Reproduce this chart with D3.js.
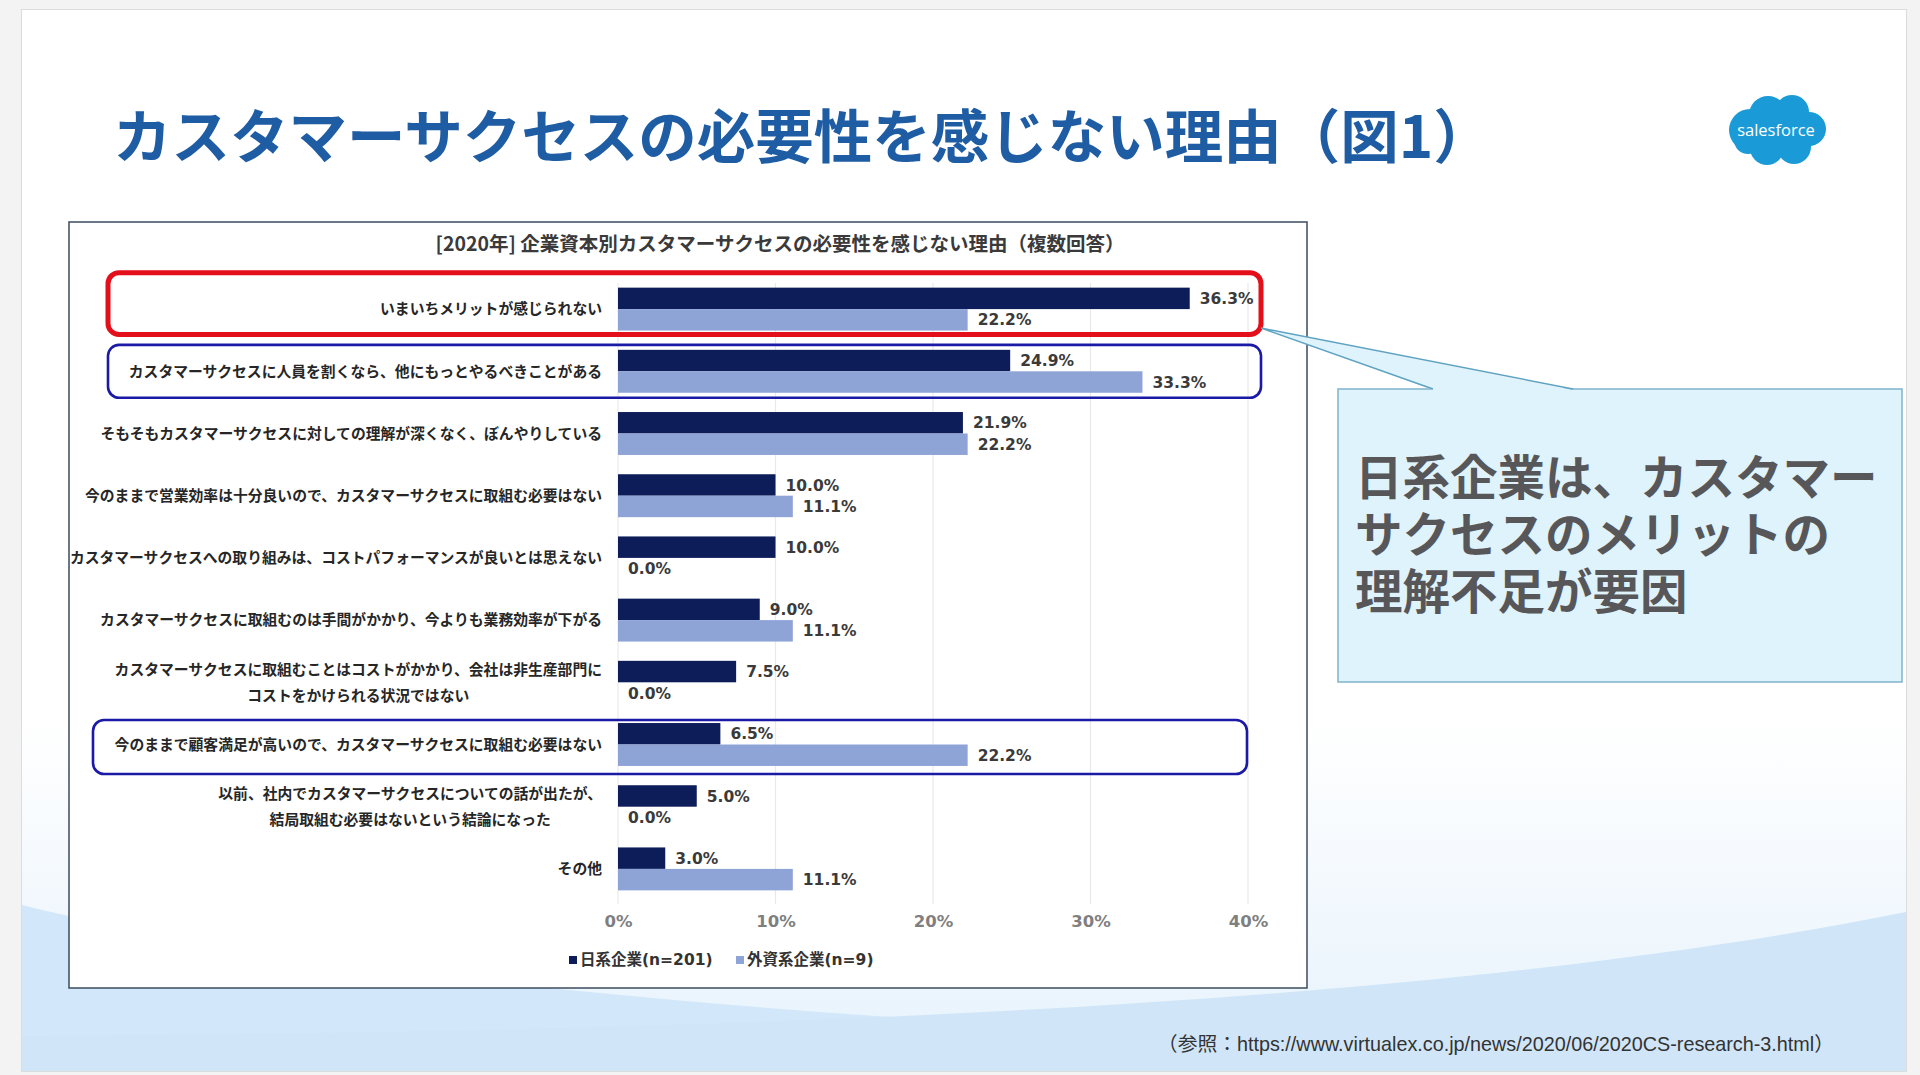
<!DOCTYPE html>
<html><head><meta charset="utf-8">
<script src="https://cdn.jsdelivr.net/npm/d3@7"></script>
<style>
html,body{margin:0;padding:0;background:#f3f3f3;}
svg{display:block;}
</style></head>
<body>
<svg id="c" width="1920" height="1075"></svg>
<script>
// ---------------- data ----------------
const slideTitle = "カスタマーサクセスの必要性を感じない理由（図1）";
const chartTitle = "[2020年] 企業資本別カスタマーサクセスの必要性を感じない理由（複数回答）";
const categories = [
  "いまいちメリットが感じられない",
  "カスタマーサクセスに人員を割くなら、他にもっとやるべきことがある",
  "そもそもカスタマーサクセスに対しての理解が深くなく、ぼんやりしている",
  "今のままで営業効率は十分良いので、カスタマーサクセスに取組む必要はない",
  "カスタマーサクセスへの取り組みは、コストパフォーマンスが良いとは思えない",
  "カスタマーサクセスに取組むのは手間がかかり、今よりも業務効率が下がる",
  "カスタマーサクセスに取組むことはコストがかかり、会社は非生産部門に\nコストをかけられる状況ではない",
  "今のままで顧客満足が高いので、カスタマーサクセスに取組む必要はない",
  "以前、社内でカスタマーサクセスについての話が出たが、\n結局取組む必要はないという結論になった",
  "その他"
];
const seriesNames = ["日系企業(n=201)", "外資系企業(n=9)"];
const japanValues   = [36.3, 24.9, 21.9, 10.0, 10.0, 9.0, 7.5, 6.5, 5.0, 3.0];
const foreignValues = [22.2, 33.3, 22.2, 11.1, 0.0, 11.1, 0.0, 22.2, 0.0, 11.1];
const xTicks = [0, 10, 20, 30, 40];
const seriesColors = ["#0c1d5a", "#8ea4d7"];
const calloutLines = ["日系企業は、カスタマー", "サクセスのメリットの", "理解不足が要因"];
const sourceText = "（参照：https://www.virtualex.co.jp/news/2020/06/2020CS-research-3.html）";
const redBoxRows = [0];
const blueBoxRows = [1, 7];

// ---------------- layout ----------------
const JP = "'Noto Sans CJK JP','Noto Sans',sans-serif";
const NUM = "'DejaVu Sans','Noto Sans CJK JP',sans-serif";
const svg = d3.select("#c");
const defs = svg.append("defs");

// slide background
svg.append("rect").attr("x",0).attr("y",0).attr("width",1920).attr("height",1075).attr("fill","#f3f3f3");
svg.append("rect").attr("x",21).attr("y",9).attr("width",1886).attr("height",1063).attr("fill","#dcdcdc");
svg.append("rect").attr("x",22).attr("y",10).attr("width",1884).attr("height",1061).attr("fill","#ffffff");

const g1 = defs.append("linearGradient").attr("id","bgGrad").attr("x1",0).attr("y1",0).attr("x2",0).attr("y2",1);
g1.append("stop").attr("offset","0%").attr("stop-color","#ffffff");
g1.append("stop").attr("offset","100%").attr("stop-color","#e6f2fc");
svg.append("rect").attr("x",22).attr("y",720).attr("width",1884).attr("height",351).attr("fill","url(#bgGrad)");

svg.append("path")
  .attr("d","M22 905 C 250 962, 600 1002, 1100 1030 L 1906 1050 L 1906 1071 L 22 1071 Z")
  .attr("fill","#d2e7f9");
svg.append("path")
  .attr("d","M22 1036 C 700 1032, 1420 1010, 1906 912 L 1906 1071 L 22 1071 Z")
  .attr("fill","#d0e6f8");

// title
svg.append("text").attr("x",113).attr("y",158)
  .attr("font-family",JP).attr("font-weight",700).attr("font-size",58.5)
  .attr("fill","#1e5ca3").text(slideTitle);

// salesforce logo
const logo = svg.append("g").attr("fill","#1a9bd7");
[[1750,130,21],[1768,115,19],[1792,112,17],[1809,129,17],[1794,147,17],[1767,148,17],[1748,140,14]]
  .forEach(c => logo.append("circle").attr("cx",c[0]).attr("cy",c[1]).attr("r",c[2]));
logo.append("rect").attr("x",1745).attr("y",115).attr("width",62).attr("height",35);
svg.append("text").attr("x",1776).attr("y",136).attr("text-anchor","middle")
  .attr("font-family","'Open Sans','Noto Sans',sans-serif").attr("font-size",16.5)
  .attr("fill","#ffffff").text("salesforce");

// chart frame
svg.append("rect").attr("x",69).attr("y",222).attr("width",1238).attr("height",766)
  .attr("fill","#ffffff").attr("stroke","#3c4b5d").attr("stroke-width",1.5);

svg.append("text").attr("x",780).attr("y",251).attr("text-anchor","middle")
  .attr("font-family",JP).attr("font-weight",700).attr("font-size",19.5)
  .attr("fill","#3a3a3a").text(chartTitle);

// scales
const x = d3.scaleLinear().domain([0,40]).range([618,1248]);
const y = d3.scaleBand().domain(d3.range(categories.length)).range([278,900])
  .paddingInner(0.31).paddingOuter(0.155);
const ySub = d3.scaleBand().domain([0,1]).range([0,y.bandwidth()]);

// gridlines
svg.append("g").selectAll("line").data(xTicks).join("line")
  .attr("x1",d=>x(d)).attr("x2",d=>x(d)).attr("y1",283).attr("y2",904)
  .attr("stroke","#e9e9e9").attr("stroke-width",1.2);

// x axis
const xAxis = svg.append("g").attr("transform","translate(0,912)")
  .call(d3.axisBottom(x).tickValues(xTicks).tickSize(0).tickFormat(d=>d+"%"));
xAxis.select(".domain").remove();
xAxis.selectAll("text").attr("font-family",NUM).attr("font-weight",700)
  .attr("font-size",16.5).attr("fill","#7f7f7f").attr("dy","0.71em");

// highlight boxes (red behind bars)
redBoxRows.forEach(i=>{
  svg.append("rect").attr("x",108).attr("y",y(i)-15).attr("width",1153)
    .attr("height",y.bandwidth()+19).attr("rx",11)
    .attr("fill","none").attr("stroke","#e3101b").attr("stroke-width",5);
});

// bars
const series = [japanValues, foreignValues];
const barG = svg.append("g");
series.forEach((vals,si)=>{
  barG.selectAll(null).data(vals).join("rect")
    .attr("x",x(0)).attr("y",(d,i)=>y(i)+ySub(si))
    .attr("width",d=>x(d)-x(0)).attr("height",ySub.bandwidth())
    .attr("fill",seriesColors[si]);
  barG.selectAll(null).data(vals).join("text")
    .attr("x",d=>x(d)+10).attr("y",(d,i)=>y(i)+ySub(si)+ySub.bandwidth()/2)
    .attr("dy","0.36em")
    .attr("font-family",NUM).attr("font-weight",700).attr("font-size",15.5)
    .attr("fill","#3a3a3a").text(d=>d.toFixed(1)+"%");
});

blueBoxRows.forEach((i,k)=>{
  const x0 = k===0 ? 108 : 93;
  const w = k===0 ? 1153 : 1154;
  svg.append("rect").attr("x",x0).attr("y",y(i)-(k===0?5:3)).attr("width",w)
    .attr("height",y.bandwidth()+(k===0?10:11)).attr("rx",11)
    .attr("fill","none").attr("stroke","#1a1aa6").attr("stroke-width",2.6);
});

// category labels
const labG = svg.append("g");
categories.forEach((c,i)=>{
  const lines = c.split("\n");
  const cy = y(i)+y.bandwidth()/2;
  const t = labG.append("text").attr("font-family",JP).attr("font-weight",700)
    .attr("font-size",14.8).attr("fill","#262626");
  if(lines.length===1){
    t.attr("x",602).attr("y",cy).attr("dy","0.36em").attr("text-anchor","end").text(c);
  } else {
    const spans = lines.map((l,j)=>t.append("tspan").attr("y",cy+(j-0.5)*26).attr("dy","0.36em").text(l));
    const maxW = d3.max(spans.map(s=>s.node().getComputedTextLength()));
    spans.forEach(s=>s.attr("x",602-maxW/2));
    t.attr("text-anchor","middle");
  }
});

// legend
const leg = svg.append("g");
const legX = [569, 736];
seriesNames.forEach((n,i)=>{
  leg.append("rect").attr("x",legX[i]).attr("y",956).attr("width",8).attr("height",8).attr("fill",seriesColors[i]);
  leg.append("text").attr("x",legX[i]+11).attr("y",965)
    .attr("font-family",NUM).attr("font-weight",700).attr("font-size",15.5)
    .attr("fill","#333333").text(n);
});

// callout
const tip = [1261,328], b1 = [1433,389], b2 = [1573,389];
svg.append("rect").attr("x",1338).attr("y",389).attr("width",564).attr("height",293)
  .attr("fill","#dff3fc").attr("stroke","#7fb4cc").attr("stroke-width",1.5);
svg.append("path").attr("d",`M${b1[0]} ${b1[1]+1} L${tip[0]} ${tip[1]} L${b2[0]} ${b2[1]+1} Z`)
  .attr("fill","#dff3fc");
svg.append("path").attr("d",`M${b1[0]} ${b1[1]} L${tip[0]} ${tip[1]} L${b2[0]} ${b2[1]}`)
  .attr("fill","none").attr("stroke","#5fa2c1").attr("stroke-width",1.5);
calloutLines.forEach((l,i)=>{
  svg.append("text").attr("x",1355).attr("y",478+i*57).attr("dy","0.36em")
    .attr("font-family",JP).attr("font-weight",700).attr("font-size",47.5)
    .attr("fill","#57575a").text(l);
});

// source
svg.append("text").attr("x",1834).attr("y",1051).attr("text-anchor","end")
  .attr("font-family","'Liberation Sans','Noto Sans CJK JP',sans-serif").attr("font-size",19.8)
  .attr("fill","#333333").text(sourceText);
</script>
</body></html>
